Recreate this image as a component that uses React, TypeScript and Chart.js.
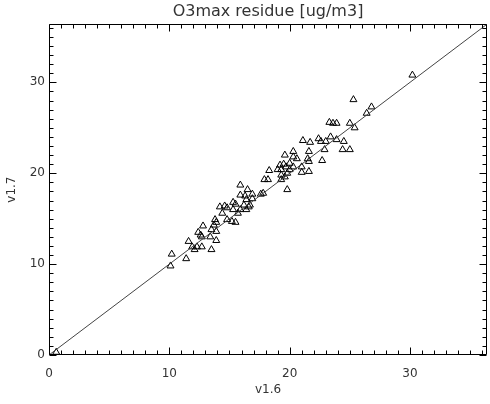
import { useEffect, useRef } from 'react';
import { Chart, registerables } from 'chart.js';

Chart.register(...registerables);

const titleText = 'O3max residue [ug/m3]';
const xTitle = 'v1.6';
const yTitle = 'v1.7';
const axisMin = 0;
const axisMax = 36.4;
const majorStep = 10;
const minorStep = 1;

const v16 = [
  0.6, 10.1, 10.2, 11.4, 11.6, 11.9, 12.1, 12.3, 12.7, 13.5,
  12.4, 12.6, 12.7, 12.8, 13.4, 13.9, 13.5, 13.9, 13.7, 13.8,
  13.9, 14.4, 14.8, 15.2, 15.5, 14.2, 14.6, 14.8, 15.3, 15.5,
  15.3, 15.7, 15.9, 15.9, 16.5, 15.9, 16.3, 16.4, 16.2, 16.6,
  16.4, 16.7, 16.9, 17.6, 17.8, 17.9, 18.2, 18.3, 19.0, 19.3,
  19.6, 19.8, 19.3, 19.8, 19.2, 19.5, 20.0, 19.3, 19.7, 20.0,
  20.3, 19.6, 20.3, 20.3, 20.6, 21.0, 21.0, 21.6, 21.5, 21.6,
  21.6, 22.7, 21.1, 21.7, 22.4, 22.6, 23.0, 23.4, 23.9, 24.5,
  22.9, 24.4, 25.0, 23.3, 23.6, 23.9, 25.0, 25.4, 25.3, 26.4,
  26.8, 30.2, 16.9,
];

const v17 = [
  0.3, 9.8, 11.1, 10.6, 12.5, 11.9, 11.6, 11.9, 11.9, 11.6,
  13.5, 13.2, 13.0, 14.2, 13.0, 12.6, 13.8, 13.6, 14.3, 14.9,
  14.6, 15.6, 14.9, 14.7, 14.6, 16.3, 16.4, 16.2, 16.8, 16.6,
  16.0, 15.6, 16.0, 18.7, 18.2, 17.6, 17.5, 17.1, 16.5, 16.3,
  16.0, 16.5, 17.2, 17.7, 17.8, 19.3, 19.3, 20.3, 20.4, 19.8,
  19.6, 20.0, 19.3, 18.2, 20.9, 21.0, 21.1, 20.4, 20.7, 20.4,
  20.7, 22.0, 22.4, 21.8, 21.6, 20.7, 20.1, 20.2, 21.6, 21.3,
  22.4, 21.4, 23.6, 23.4, 23.8, 23.5, 23.5, 24.0, 23.7, 23.5,
  22.6, 22.6, 22.6, 25.6, 25.5, 25.5, 25.5, 25.0, 28.1, 26.6,
  27.3, 30.8, 17.7,
];

const lineX = [0, axisMax];
const lineY = [0, axisMax];

const textColor = '#333';
const fontFamily = '"DejaVu Sans", sans-serif';

const frameTicks = {
  id: 'frameTicks',
  afterDatasetsDraw(chart: any) {
    const { ctx, chartArea: a, scales } = chart;
    const xs = scales.x;
    const ys = scales.y;
    const L = Math.round(a.left) + 0.5;
    const R = Math.round(a.right) - 0.5;
    const T = Math.round(a.top) + 0.5;
    const B = Math.round(a.bottom) - 0.5;
    ctx.save();
    ctx.strokeStyle = '#000';
    ctx.lineWidth = 1;
    ctx.beginPath();
    ctx.rect(L, T, R - L, B - T);
    for (let v = axisMin; v <= axisMax + 1e-9; v += minorStep) {
      const major = Math.abs(v % majorStep) < 1e-9;
      const len = major ? 7 : 4;
      const px = Math.round(xs.getPixelForValue(v)) + 0.5;
      ctx.moveTo(px, B);
      ctx.lineTo(px, B - len);
      ctx.moveTo(px, T);
      ctx.lineTo(px, T + len);
      const py = Math.round(ys.getPixelForValue(v)) + 0.5;
      ctx.moveTo(L, py);
      ctx.lineTo(L + len, py);
      ctx.moveTo(R, py);
      ctx.lineTo(R - len, py);
    }
    ctx.stroke();
    ctx.restore();
  },
};

export default function App() {
  const ref = useRef<HTMLCanvasElement | null>(null);

  useEffect(() => {
    if (!ref.current) return;
    const chart = new Chart(ref.current, {
      type: 'scatter',
      data: {
        datasets: [
          {
            type: 'line',
            data: lineX.map((x, i) => ({ x, y: lineY[i] })),
            borderColor: '#444',
            borderWidth: 1,
            pointRadius: 0,
            fill: false,
          } as any,
          {
            type: 'scatter',
            data: v16.map((x, i) => ({ x, y: v17[i] })),
            pointStyle: 'triangle',
            pointRadius: 4,
            borderColor: '#000',
            borderWidth: 1,
            backgroundColor: 'rgba(0,0,0,0)',
          },
        ],
      },
      options: {
        animation: false,
        responsive: false,
        devicePixelRatio: 1,
        layout: { autoPadding: false, padding: { left: 0, right: 3, top: 0, bottom: 0 } },
        plugins: {
          legend: { display: false },
          tooltip: { enabled: false },
          title: {
            display: true,
            text: titleText,
            fullSize: false,
            color: textColor,
            font: { family: fontFamily, size: 16, weight: 'normal' },
            padding: { top: 2, bottom: 3 },
          },
        },
        scales: {
          x: {
            type: 'linear',
            position: 'bottom',
            min: axisMin,
            max: axisMax,
            grid: { display: false, drawTicks: false },
            border: { display: false },
            ticks: {
              stepSize: majorStep,
              includeBounds: false,
              padding: 12,
              color: textColor,
              font: { family: fontFamily, size: 12 },
              maxRotation: 0,
            },
            title: {
              display: true,
              text: xTitle,
              color: textColor,
              font: { family: fontFamily, size: 12 },
              padding: { top: 0, bottom: 7 },
            },
            afterFit(s: any) {
              s.height = 49;
            },
          },
          y: {
            type: 'linear',
            position: 'left',
            min: axisMin,
            max: axisMax,
            grid: { display: false, drawTicks: false },
            border: { display: false },
            ticks: {
              stepSize: majorStep,
              includeBounds: false,
              padding: 4,
              color: textColor,
              font: { family: fontFamily, size: 12 },
            },
            title: {
              display: true,
              text: yTitle,
              color: textColor,
              font: { family: fontFamily, size: 12 },
              padding: { top: 5, bottom: 0 },
            },
            afterFit(s: any) {
              s.width = 49;
            },
          },
        },
      } as any,
      plugins: [frameTicks],
    });
    return () => chart.destroy();
  }, []);

  return (
    <div style={{ position: 'fixed', left: 0, top: 0, width: 490, height: 404, background: '#fff' }}>
      <canvas ref={ref} width={490} height={404} style={{ width: 490, height: 404, display: 'block' }} />
    </div>
  );
}
